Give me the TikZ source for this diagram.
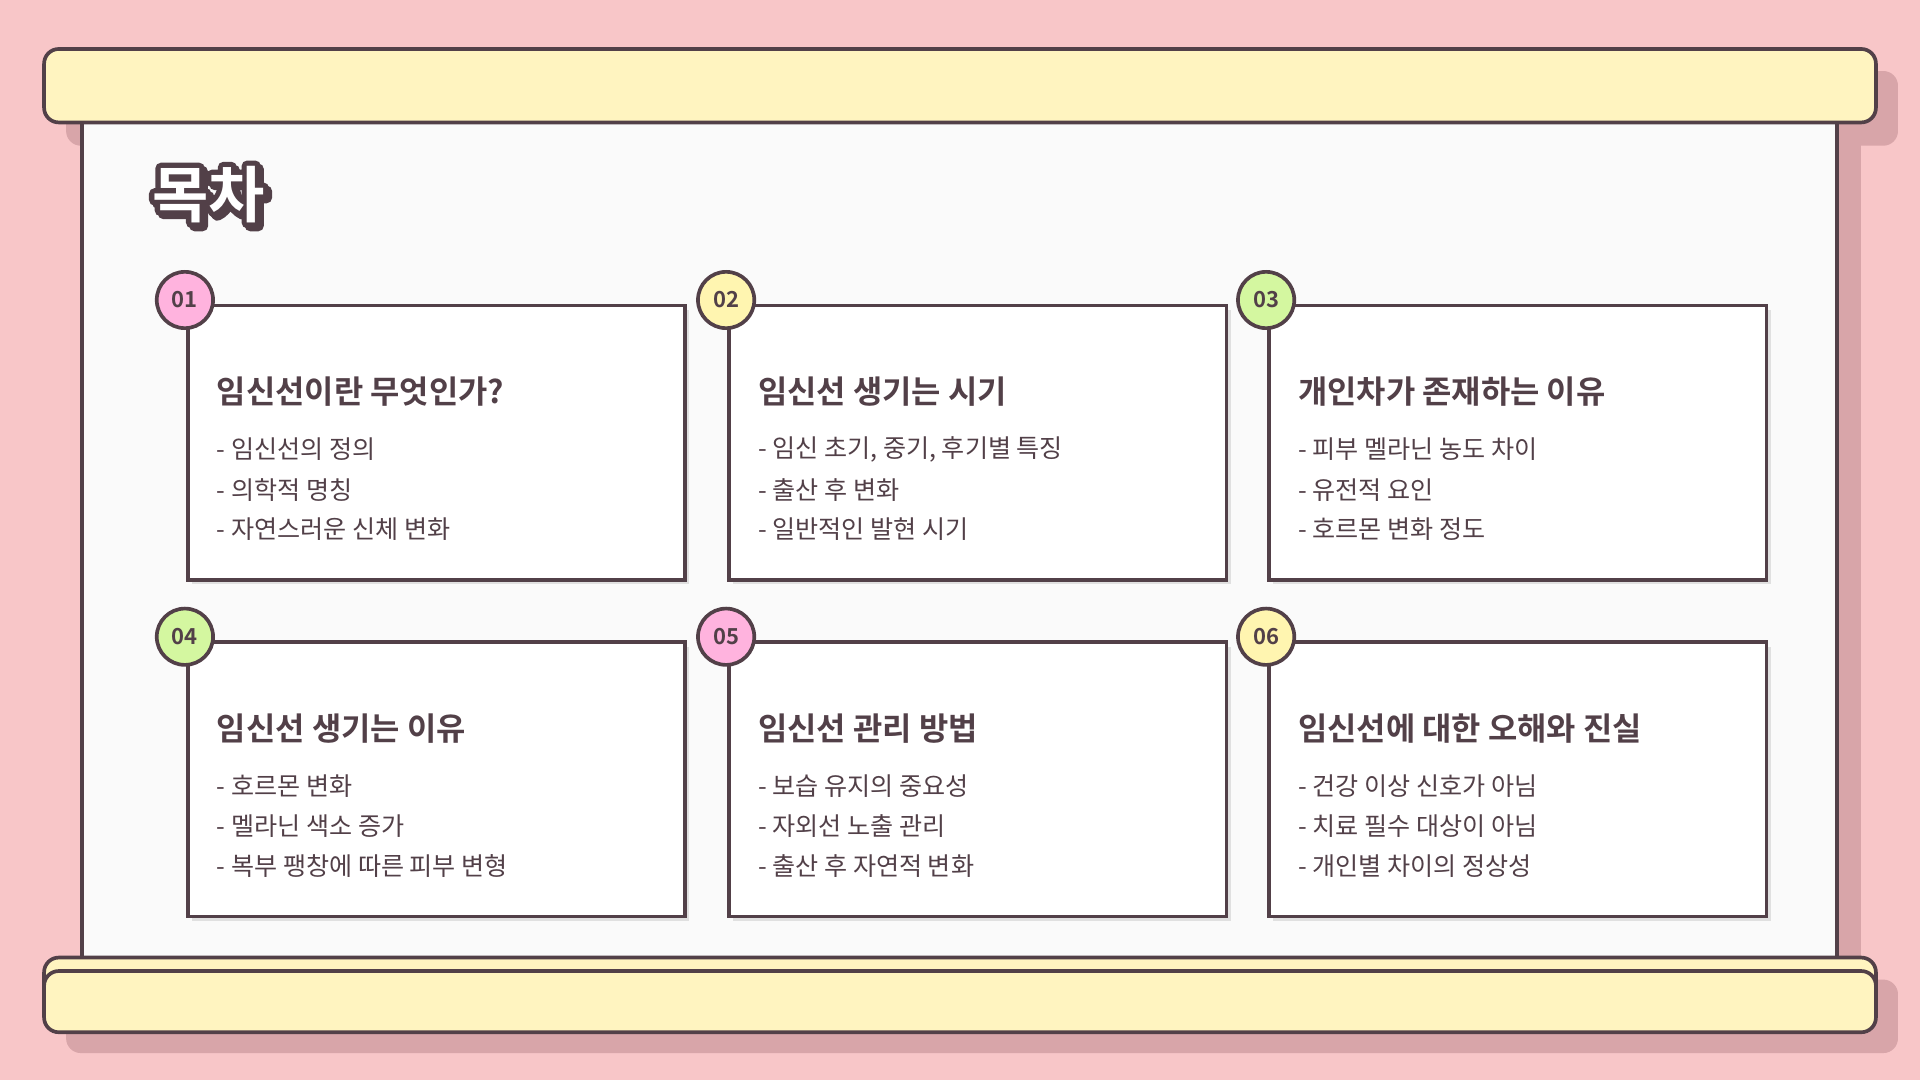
\documentclass[tikz,border=0pt]{standalone}
\usepackage{fontspec}
\setmainfont{Noto Sans CJK KR}
\newfontfamily\kb{Noto Sans CJK KR Bold}
\definecolor{bgp}{HTML}{F8C6C8}
\definecolor{shp}{HTML}{D8A5A9}
\definecolor{ink}{HTML}{524048}
\definecolor{cream}{HTML}{FFF4C0}
\definecolor{board}{HTML}{FAFAFA}
\definecolor{bpink}{HTML}{FFB3DE}
\definecolor{byel}{HTML}{FFF5B0}
\definecolor{bgrn}{HTML}{D4F7A0}
\begin{document}
\begin{tikzpicture}[x=1pt,y=-1pt,
  card/.style={draw=ink,line width=3pt,fill=white},
  badge/.style={circle,draw=ink,line width=3pt,minimum size=46pt,inner sep=0pt,font=\kb\fontsize{18}{18}\selectfont,text=ink},
  head/.style={anchor=west,font=\kb\fontsize{26}{26}\selectfont,text=ink,inner sep=0pt},
  item/.style={anchor=west,font=\fontsize{20.5}{20.5}\selectfont,text=ink,inner sep=0pt}]
\fill[bgp] (0,0) rectangle (1568,882);
\useasboundingbox (0,0) rectangle (1568,882);
\fill[shp] (85,100) rectangle (1520,800);
\fill[shp,rounded corners=12pt] (54,58) rectangle (1550,119);
\fill[shp,rounded corners=12pt] (54,800) rectangle (1550,860);
\draw[draw=ink,line width=3pt,fill=board] (67,90) rectangle (1500,790);
\node[draw=ink,line width=3pt,fill=cream,rounded corners=12pt,minimum width=1496pt,minimum height=60pt,inner sep=0pt] (top) at (784,70) {};
\node[draw=ink,line width=3pt,fill=cream,rounded corners=12pt,minimum width=1496pt,minimum height=52pt,inner sep=0pt] (bot0) at (784,808) {};
\node[draw=ink,line width=3pt,fill=cream,rounded corners=12pt,minimum width=1496pt,minimum height=50pt,inner sep=0pt] (bot) at (784,818) {};
% title
\node[anchor=west,text=white,font=\kb\fontsize{50}{50}\selectfont,inner sep=0pt] (title) at (124,160)
 {\rlap{\special{pdf:literal direct 2 Tr 9 w 1 j 1 J 0.322 0.251 0.282 RG 0.322 0.251 0.282 rg}\raisebox{-2.5pt}{\kern2.5pt 목차}\special{pdf:literal direct 0 Tr}}%
  \rlap{\special{pdf:literal direct 2 Tr 9 w 1 j 1 J 0.322 0.251 0.282 RG 0.322 0.251 0.282 rg}목차\special{pdf:literal direct 0 Tr}}%
  \special{pdf:literal direct 0 Tr 1 1 1 rg}목차};
\newcommand\mycard[8]{%
  \fill[black!12] (#1+5,#2+5) rectangle (#1+411,#2+229);
  \node[card,minimum width=406pt,minimum height=224pt,inner sep=0pt,anchor=north west] (c#3) at (#1,#2) {};
  \node[badge,fill=#4] (b#3) at (#1-1,#2-3) {#3};
  \node[head] (h#3) at (#1+25,#2+72) {#5};
  \node[item] (i#3a) at (#1+25,#2+119) {#6};
  \node[item] (i#3b) at (#1+25,#2+152) {#7};
  \node[item] (i#3c) at (#1+25,#2+184) {#8};
}
\mycard{152}{248}{01}{bpink}{임신선이란 무엇인가?}{- 임신선의 정의}{- 의학적 명칭}{- 자연스러운 신체 변화}
\mycard{594}{248}{02}{byel}{임신선 생기는 시기}{- 임신 초기, 중기, 후기별 특징}{- 출산 후 변화}{- 일반적인 발현 시기}
\mycard{1035}{248}{03}{bgrn}{개인차가 존재하는 이유}{- 피부 멜라닌 농도 차이}{- 유전적 요인}{- 호르몬 변화 정도}
\mycard{152}{523}{04}{bgrn}{임신선 생기는 이유}{- 호르몬 변화}{- 멜라닌 색소 증가}{- 복부 팽창에 따른 피부 변형}
\mycard{594}{523}{05}{bpink}{임신선 관리 방법}{- 보습 유지의 중요성}{- 자외선 노출 관리}{- 출산 후 자연적 변화}
\mycard{1035}{523}{06}{byel}{임신선에 대한 오해와 진실}{- 건강 이상 신호가 아님}{- 치료 필수 대상이 아님}{- 개인별 차이의 정상성}
\end{tikzpicture}
\end{document}
